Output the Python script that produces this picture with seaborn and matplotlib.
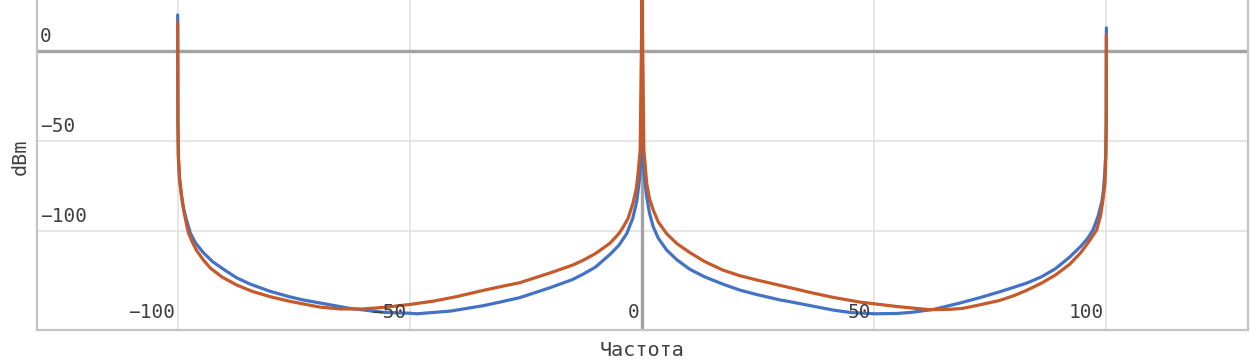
import matplotlib
matplotlib.use("Agg")
import matplotlib.pyplot as plt
import matplotlib.transforms as mtransforms
import seaborn as sns
import pandas as pd

# blue series (frequency, dBm)
blue_x = [-100, -99.95, -99.85, -99.6, -99.2, -98.8, -98.2, -97.3, -96.2, -94.5, -92.5, -90,
          -87.3, -84.4, -80.1, -76, -73, -67.2, -62.9, -55.7, -50, -48.5, -41.3, -34.2,
          -30.6, -26.3, -19.8, -15, -12.7, -10, -6.9, -5, -3.3, -2, -1.1, -0.5, -0.2,
          0,
          0.2, 0.5, 1.0, 1.6, 2.4, 3.5, 5.3, 7.5, 10.3, 13.5, 17.4, 21, 24.7, 29.7,
          31.9, 36.3, 41.3, 45, 50.2, 55, 58, 62.9, 68.5, 72.8, 77, 82.8, 86, 89,
          92.1, 94.5, 96, 97.1, 98.2, 99, 99.3, 99.6, 99.85, 99.95, 100]
blue_y = [20, -40, -60, -72, -80, -86.6, -93, -101, -106.5, -112, -117, -121.5,
          -126, -129.5, -133.5, -136.5, -138.3, -141, -143, -145.2, -145.7, -146, -144.5, -141.5,
          -139.5, -137, -131.5, -127, -124, -120, -113, -108, -101.5, -93, -83, -70, -58,
          25,
          -58, -70, -81, -90, -97.6, -104, -110.6, -116, -121.3, -125.5, -129.5, -132.8, -135.3, -138.3,
          -139.3, -141.5, -144, -145.3, -146, -145.8, -145.2, -143.5, -140, -137, -133.8, -129, -125.5, -121,
          -114.5, -108.5, -104, -99.5, -92, -84, -79, -70, -58, -40, 12.8]

# orange series (frequency, dBm)
orange_x = [-100, -99.95, -99.85, -99.6, -99.2, -98.75, -98.2, -97.7, -96.8, -95.9, -94.5, -93,
            -90.5, -87.3, -84, -80.1, -76, -73, -69.3, -65, -60, -55, -50, -45,
            -40, -34.2, -30.6, -26.3, -19.8, -15, -12.7, -10, -6.9, -5, -4.1, -3,
            -1.9, -1.2, -0.86, -0.4,
            0,
            0.4, 1.0, 1.6, 2.4, 3.5, 5.3, 7.5, 10.3, 13.5, 17.4, 21, 24.7, 29.7,
            31.9, 36, 41, 46.9, 50.2, 55, 59, 62, 66.5, 69, 72.8, 77, 80, 82.8,
            86, 89, 92.1, 94.5, 96.2, 97.9, 98.7, 99.2, 99.7, 99.9, 99.97, 100]
orange_y = [15.6, -40, -58, -70, -80, -88, -95, -101, -106.5, -111, -116, -120.5,
            -125.5, -130, -133.5, -136.5, -139, -140.5, -142.3, -143.3, -143.3, -142.3, -140.8, -139,
            -136.5, -133, -131, -128.7, -123.3, -119, -116.3, -112.5, -106.8, -101.5, -98, -93,
            -84, -76, -68, -55,
            30,
            -55, -73.5, -82, -88.3, -95, -101.5, -107, -112, -117, -121.7, -124.8, -127.2, -130.2,
            -131.5, -134, -136.8, -139.5, -140.5, -142, -143, -143.7, -143.5, -143, -141, -138.6, -136, -133,
            -129, -124.5, -118.5, -112, -106, -99.5, -92, -84, -73.5, -58, -40, 8.9]

x_ticks = [-100, -50, 0, 50, 100]
x_tick_labels = ["−100", "−50", "0", "50", "100"]
y_ticks = [0, -50, -100]
y_tick_labels = ["0", "−50", "−100"]

df = pd.concat([
    pd.DataFrame({"freq": blue_x, "dbm": blue_y, "series": "blue"}),
    pd.DataFrame({"freq": orange_x, "dbm": orange_y, "series": "orange"}),
], ignore_index=True)

sns.set_style("white")
plt.rcParams["font.family"] = ["DejaVu Sans Mono", "DejaVu Sans"]

fig = plt.figure(figsize=(12.6, 3.62), dpi=100)
ax = fig.add_axes([37 / 1260, 32 / 362, (1248 - 37) / 1260, 330 / 362])

ax.set_xlim(-130.3, 130.5)
ax.set_ylim(-155, 28.3)
ax.set_xticks(x_ticks)
ax.set_yticks(y_ticks)
ax.tick_params(length=0, labelleft=False, labelbottom=False)
ax.grid(True, color="#e2e2e2", linewidth=1.2)
ax.set_axisbelow(True)

ax.axhline(0, color="#a3a3a3", linewidth=2.4, zorder=1)
ax.axvline(0, color="#a3a3a3", linewidth=2.4, zorder=1)

sns.lineplot(data=df, x="freq", y="dbm", hue="series", sort=False, estimator=None,
             palette={"blue": "#4472c4", "orange": "#c55a2b"}, linewidth=2.3,
             legend=False, ax=ax, zorder=3)
ax.set_xlabel("")
ax.set_ylabel("")

for s in ["left", "bottom", "right"]:
    ax.spines[s].set_color("#c4c4c4")
    ax.spines[s].set_linewidth(1.6)
ax.spines["top"].set_visible(False)

tick_color = "#404040"
ytrans = mtransforms.offset_copy(ax.get_yaxis_transform(), fig=fig, x=3, y=14, units="dots")
for v, lab in zip(y_ticks, y_tick_labels):
    ax.text(0, v, lab, transform=ytrans, ha="left", va="center", fontsize=14, color=tick_color)

xtrans = mtransforms.offset_copy(ax.get_xaxis_transform(), fig=fig, x=-3, y=17, units="dots")
for v, lab in zip(x_ticks, x_tick_labels):
    ax.text(v, 0, lab, transform=xtrans, ha="right", va="center", fontsize=14, color=tick_color)

# axis titles
fig.text(642 / 1260, 1 - 351 / 362, "Частота", ha="center", va="center",
         fontsize=14.5, color=tick_color)
fig.text(20 / 1260, 1 - 157 / 362, "dBm", ha="center", va="center", rotation=90,
         fontsize=14.5, color=tick_color)

fig.savefig("out.png", dpi=100)
